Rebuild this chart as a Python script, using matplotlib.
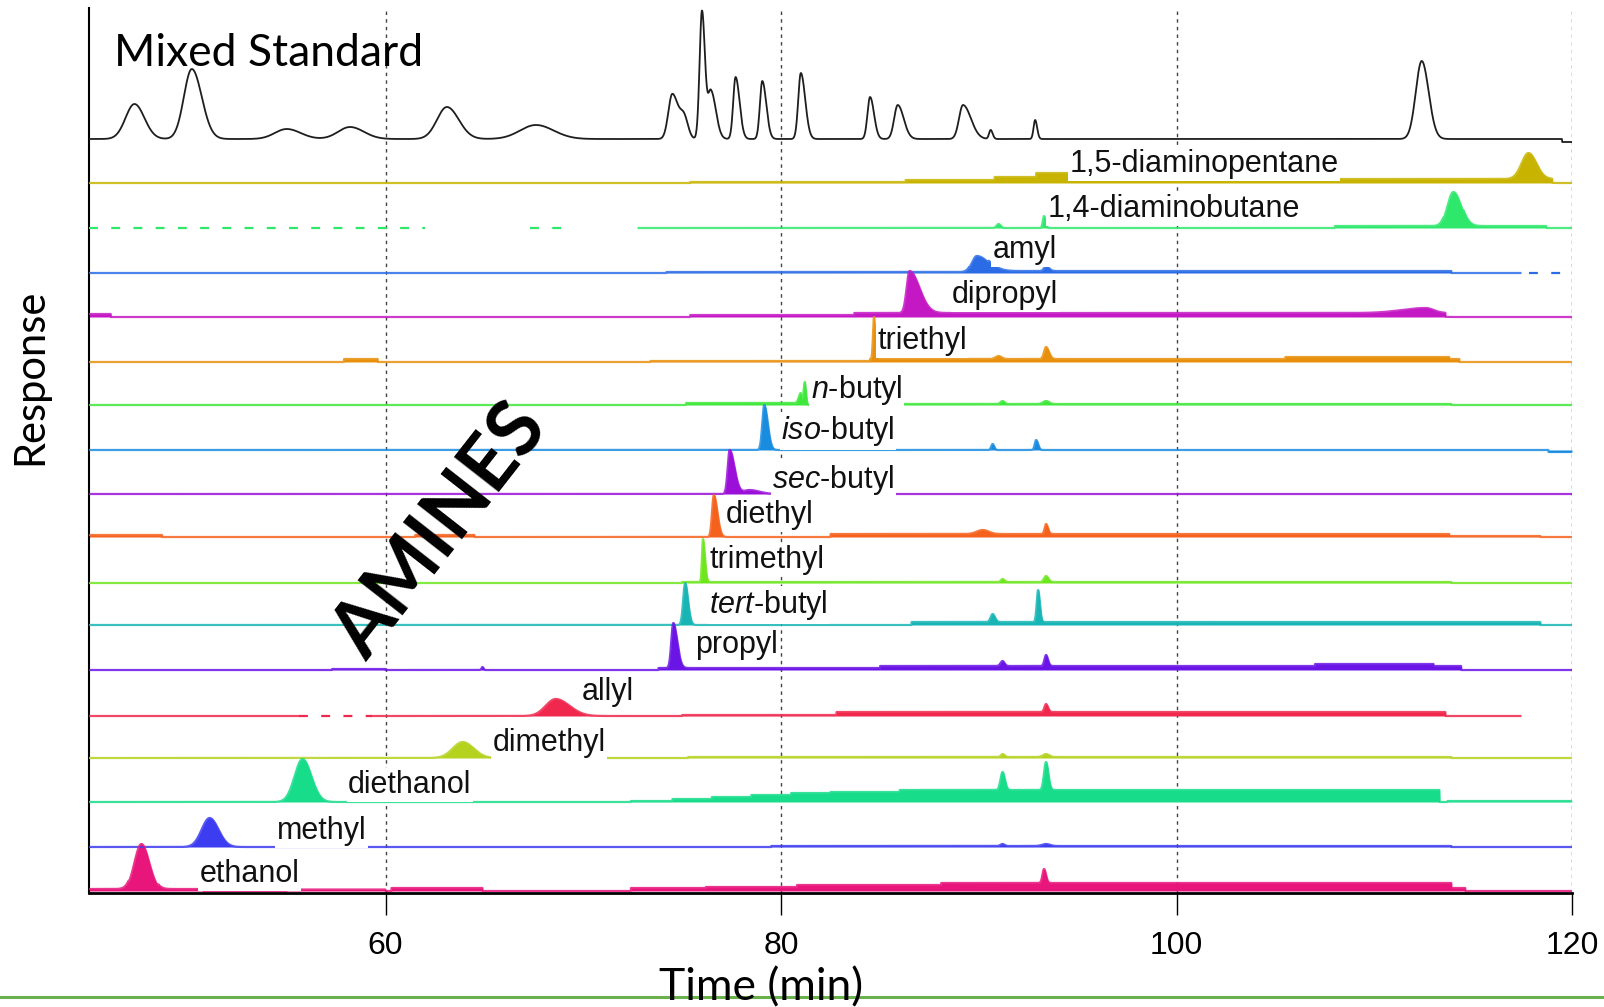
import numpy as np
import matplotlib.pyplot as plt
from matplotlib.lines import Line2D

plt.rcParams['font.family'] = ['Liberation Sans', 'DejaVu Sans']
plt.rcParams['mathtext.fontset'] = 'custom'
plt.rcParams['mathtext.it'] = 'Liberation Sans:italic'
plt.rcParams['mathtext.rm'] = 'Liberation Sans'

TIME_MIN, TIME_MAX = 45, 120
TICKS = [60, 80, 100, 120]

# traces from top to bottom
trace_labels = [
    "", "1,5-diaminopentane", "1,4-diaminobutane", "amyl", "dipropyl",
    "triethyl", r"$\it{n}$-butyl", r"$\it{iso}$-butyl", r"$\it{sec}$-butyl",
    "diethyl", "trimethyl", r"$\it{tert}$-butyl", "propyl", "allyl",
    "dimethyl", "diethanol", "methyl", "ethanol",
]
trace_colors = [
    "#1e1e1e", "#c8b400", "#2ee86c", "#2b6ce6", "#c418c4",
    "#e8900c", "#3de83a", "#1a8ce0", "#9b10d8",
    "#f5621e", "#6ee61e", "#19b5b5", "#6a14e6", "#f0284e",
    "#b4d21e", "#17dc8a", "#3c3cf0", "#e8157a",
]
# vertical offset of each baseline (response units)
trace_offsets = [754, 710, 665, 620, 576, 531, 488, 443, 399,
                 356, 310, 268, 223, 177, 135, 91, 46, 2]

# peaks: (retention time, height, left width, right width)
peaks = [
    [(47.3, 35, 0.45, 0.5), (50.2, 70, 0.4, 0.5), (55.0, 10, 0.6, 0.7),
     (58.2, 12, 0.6, 0.7), (63.1, 32, 0.5, 0.6), (67.6, 14, 0.8, 0.9),
     (74.5, 45, 0.2, 0.3), (75.1, 20, 0.2, 0.2), (76.0, 128, 0.12, 0.15),
     (76.45, 48, 0.15, 0.25), (77.7, 62, 0.12, 0.2), (79.05, 58, 0.12, 0.2),
     (81.0, 66, 0.13, 0.22), (84.5, 42, 0.13, 0.2), (85.9, 34, 0.18, 0.3),
     (89.2, 34, 0.2, 0.4), (90.6, 9, 0.08, 0.1), (92.85, 19, 0.08, 0.1),
     (112.4, 78, 0.3, 0.35)],
    [(117.8, 26, 0.35, 0.4)],
    [(114.0, 36, 0.3, 0.4), (91.0, 4, 0.1, 0.1), (93.3, 12, 0.06, 0.08)],
    [(89.9, 17, 0.25, 0.6), (93.4, 5, 0.1, 0.15)],
    [(86.5, 42, 0.15, 0.5), (112.6, 5, 1.2, 0.4)],
    [(84.7, 42, 0.05, 0.07), (93.4, 12, 0.1, 0.15), (91.0, 3, 0.15, 0.15)],
    [(81.0, 10, 0.1, 0.05), (81.2, 23, 0.06, 0.06), (91.2, 3, 0.1, 0.1),
     (93.4, 3, 0.15, 0.15)],
    [(79.15, 45, 0.1, 0.18), (90.7, 6, 0.07, 0.08), (92.9, 10, 0.07, 0.1)],
    [(77.4, 44, 0.1, 0.25), (78.4, 4, 0.3, 0.5)],
    [(76.6, 42, 0.09, 0.18), (90.2, 4, 0.3, 0.3), (93.4, 10, 0.07, 0.1)],
    [(76.05, 43, 0.05, 0.1), (91.2, 3, 0.08, 0.1), (93.4, 6, 0.1, 0.12)],
    [(75.15, 42, 0.1, 0.15), (90.7, 8, 0.1, 0.12), (93.0, 32, 0.07, 0.09)],
    [(74.55, 45, 0.1, 0.2), (91.2, 5, 0.1, 0.1), (93.4, 11, 0.08, 0.1),
     (64.9, 3, 0.05, 0.05)],
    [(68.6, 17, 0.5, 0.7), (93.4, 8, 0.08, 0.1)],
    [(63.9, 16, 0.5, 0.55), (91.2, 3, 0.08, 0.1), (93.4, 3, 0.15, 0.15)],
    [(55.8, 43, 0.4, 0.45), (91.2, 18, 0.1, 0.12), (93.4, 28, 0.1, 0.12)],
    [(51.1, 29, 0.4, 0.45), (91.2, 2, 0.1, 0.1), (93.4, 2, 0.2, 0.2)],
    [(47.65, 47, 0.35, 0.4), (93.3, 14, 0.08, 0.1)],
]

# raised baseline stretches: (start, end, height)
steps = [
    [(119.5, 120, -3)],
    [(75.4, 86.3, 1), (86.3, 90.8, 3), (90.8, 92.9, 6), (92.9, 94.5, 10),
     (94.5, 108.2, 3), (108.2, 119.0, 4)],
    [(58.2, 60.0, 2), (108.0, 113.5, 2), (114.5, 118.7, 2)],
    [(74.2, 89.5, 1), (90.5, 113.9, 2)],
    [(45.0, 46.1, 3), (75.4, 83.7, 2), (83.7, 113.6, 4)],
    [(57.9, 59.6, 3), (73.4, 84.5, 1), (84.5, 114.3, 3), (105.5, 113.8, 2)],
    [(75.2, 81.0, 2), (85.9, 113.9, 1)],
    [(118.8, 120, -2)],
    [],
    [(45.0, 48.7, 2), (61.5, 64.5, 2), (82.5, 113.8, 3), (113.8, 118.4, 1)],
    [(75.0, 113.9, 1)],
    [(86.6, 118.4, 3)],
    [(57.3, 60.0, 1), (73.8, 85.0, 2), (85.0, 114.4, 4), (107.0, 113.0, 2)],
    [(75.0, 82.8, 1), (82.8, 113.6, 4)],
    [(75.3, 113.9, 1)],
    [(72.4, 74.5, 1), (74.5, 76.5, 3), (76.5, 78.5, 5), (78.5, 80.5, 7),
     (80.5, 82.5, 9), (82.5, 86.0, 10), (86.0, 113.3, 12), (113.7, 120, 1)],
    [(79.5, 113.9, 1)],
    [(45.0, 47.0, 2), (48.5, 50.8, 2), (55.0, 60.0, 1.5), (60.3, 64.9, 3),
     (72.4, 76.2, 3), (76.2, 80.8, 4), (80.8, 88.1, 6), (88.1, 113.9, 8),
     (113.9, 114.6, 3)],
]

# where a trace is recorded: (start, end, dashed)
segments = {
    2: [(45.0, 62.0, True), (67.3, 69.2, True), (72.8, 120, False)],
    3: [(45.0, 117.4, False), (117.8, 120, True)],
    13: [(45.0, 55.6, False), (55.6, 59.3, True), (59.3, 117.4, False)],
}

# label anchor (time, response)
label_time = [0, 94.6, 93.5, 90.7, 88.65, 84.86, 81.5, 80.0, 79.55,
              77.2, 76.4, 76.36, 75.65, 69.94, 65.4, 58.1, 54.5, 50.6]
label_resp = [0, 729, 684, 643, 598, 552, 503, 462, 413,
              378, 333, 288, 248, 201, 150, 108, 62, 19]

t = np.linspace(TIME_MIN, TIME_MAX, 5000)


def build_signal(trace_peaks, trace_steps):
    y = np.zeros_like(t)
    for rt, h, sl, sr in trace_peaks:
        s = np.where(t < rt, sl, sr)
        y += h * np.exp(-0.5 * ((t - rt) / s) ** 2)
    for a, b, h in trace_steps:
        y += np.where((t >= a) & (t <= b), h, 0.0)
    return y


fig = plt.figure(figsize=(16.04, 10.07), dpi=100)
ax = fig.add_axes([89 / 1604, 1 - 893 / 1007, (1572 - 89) / 1604, (893 - 8) / 1007])

for i, label in enumerate(trace_labels):
    base = trace_offsets[i]
    sig = build_signal(peaks[i], steps[i])
    color = trace_colors[i]
    segs = segments.get(i, [(TIME_MIN, TIME_MAX, False)])
    for a, b, dashed in segs:
        m = (t >= a) & (t <= b)
        if i == 0:
            ax.plot(t[m], base + sig[m], color=color, lw=1.3, zorder=3)
            continue
        if dashed:
            ax.plot(t[m], np.full(m.sum(), base), color=color, lw=1.6,
                    ls=(0, (4, 6)), zorder=3)
            continue
        ax.fill_between(t[m], base, base + sig[m], color=color, lw=0, zorder=2)
        ax.plot(t[m], base + sig[m], color=color, lw=1.6, alpha=0.85, zorder=3)
    if label:
        ax.text(label_time[i], label_resp[i], label, fontsize=22, color="#111111",
                ha="left", va="center", zorder=6,
                bbox=dict(facecolor="white", edgecolor="none", pad=1))

ax.set_xlim(TIME_MIN, TIME_MAX)
ax.set_ylim(0, 885)
ax.set_yticks([])
ax.set_xticks(TICKS)
ax.tick_params(axis="x", direction="out", length=16, width=1, pad=11, labelsize=23)
for x in TICKS:
    ax.axvline(x, color="#444444", lw=1, ls=(0, (2.5, 3)), zorder=1)
ax.spines["top"].set_visible(False)
ax.spines["right"].set_visible(False)
ax.spines["left"].set_linewidth(1.5)
ax.spines["bottom"].set_linewidth(2)
ax.spines["bottom"].set_zorder(7)

calibri_like = ["Lato", "DejaVu Sans"]
fig.text(114 / 1604, 1 - 54 / 1007, "Mixed Standard", fontsize=32,
         family=calibri_like, ha="left", va="center")
fig.text(761 / 1604, 1 - 988 / 1007, "Time (min)", fontsize=32,
         family=calibri_like, ha="center", va="center")
fig.text(30 / 1604, 1 - 377 / 1007, "Response", fontsize=30, rotation=90,
         family=calibri_like, ha="center", va="center")
fig.text(441 / 1604, 1 - 532 / 1007, "AMINES", fontsize=56, rotation=52,
         fontweight="bold", family=calibri_like, ha="center", va="center",
         rotation_mode="anchor")

fig.add_artist(Line2D([0, 1], [1 - 997 / 1007] * 2, transform=fig.transFigure,
                      color="#6ab04c", lw=2.2, zorder=0))

fig.savefig("out.png", dpi=100)
